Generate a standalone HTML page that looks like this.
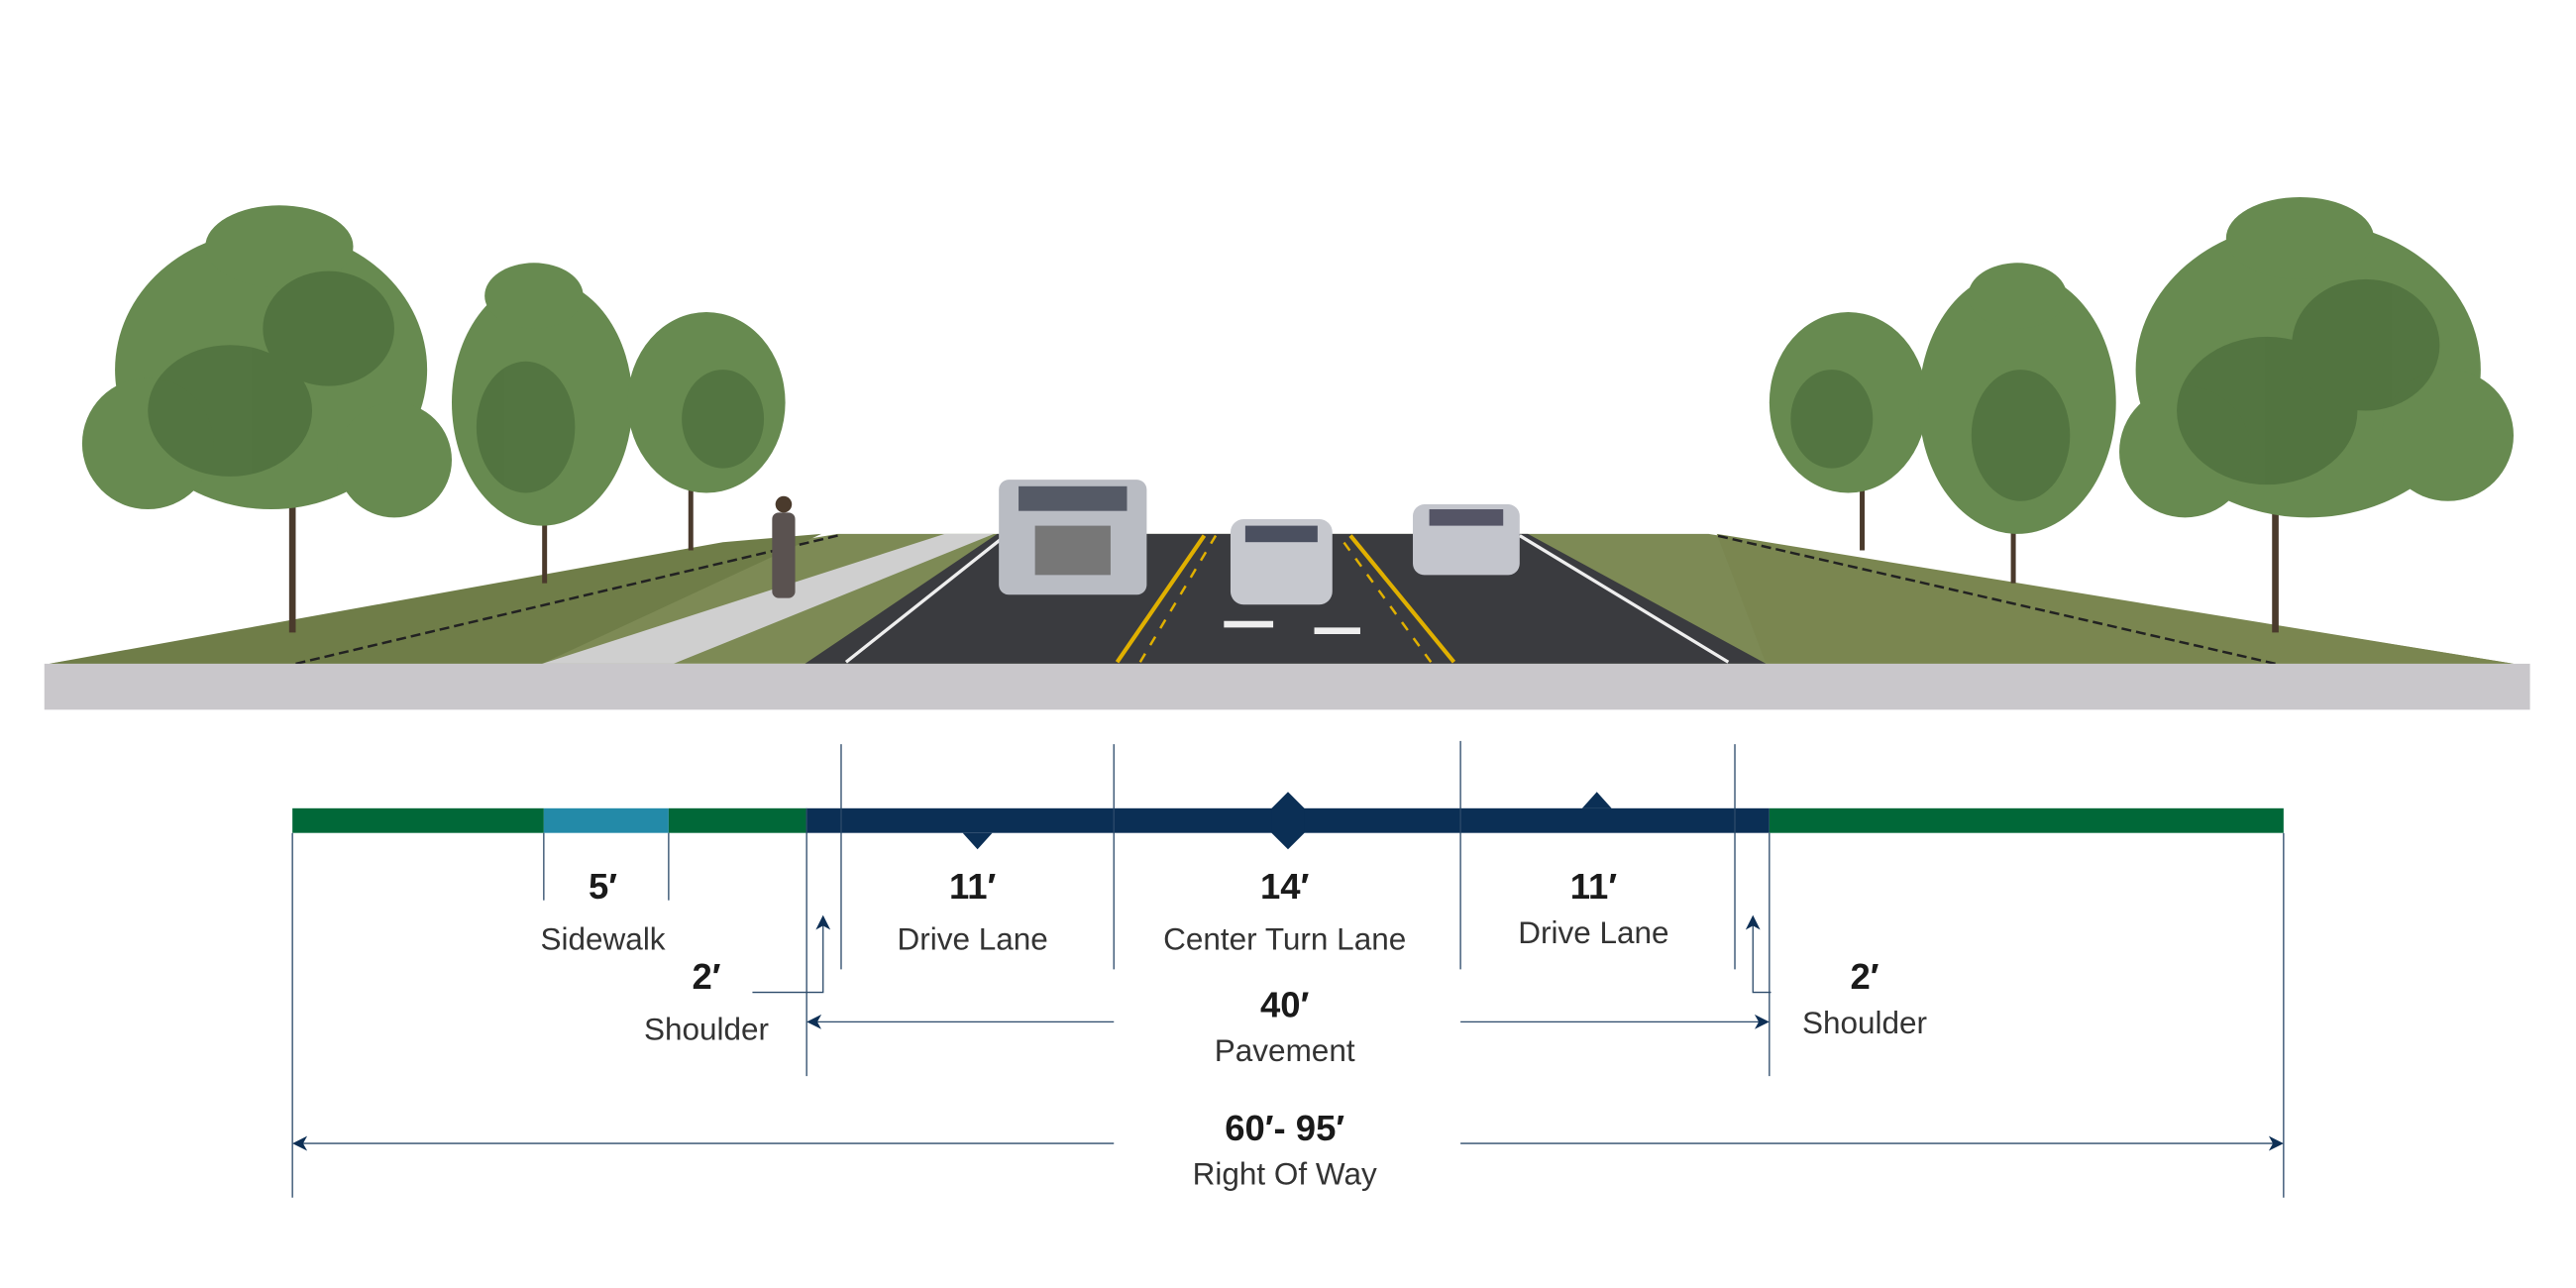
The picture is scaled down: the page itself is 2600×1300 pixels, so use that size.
<!DOCTYPE html>
<html><head><meta charset="utf-8"><style>
html,body{margin:0;padding:0;background:#fff;}
svg{display:block;}
text{font-family:"Liberation Sans",sans-serif;fill:#1a1a1a;text-anchor:middle;}
.b{font-weight:bold;font-size:22px;}
.l{font-size:19px;fill:#333;}
</style></head><body>
<svg width="2600" height="1300" viewBox="0 0 1568 784" preserveAspectRatio="none" xmlns="http://www.w3.org/2000/svg">
<defs>
<marker id="a" markerWidth="9" markerHeight="9" refX="8" refY="4.5" orient="auto" markerUnits="userSpaceOnUse"><path d="M0,0 L9,4.5 L0,9 L2.5,4.5 Z" fill="#0d2f55"/></marker>
</defs>
<!-- ground -->
<polygon points="30,404 510,325 1040,325 1530,404" fill="#7d8a55"/>
<polygon points="30,404 440,330 500,325 330,404" fill="#6f7d48"/>
<polygon points="1075,404 1045,325 1530,404" fill="#7a8650"/>
<line x1="180" y1="404" x2="510" y2="326" stroke="#222" stroke-width="1.5" stroke-dasharray="6,3"/>
<line x1="1385" y1="404" x2="1045" y2="326" stroke="#222" stroke-width="1.5" stroke-dasharray="6,3"/>
<polygon points="330,404 410,404 605,325 575,325" fill="#cfcfcf"/>
<polygon points="490,404 1075,404 930,325 607,325" fill="#3a3b3f"/>
<line x1="515" y1="403" x2="612" y2="326" stroke="#eee" stroke-width="2"/>
<line x1="1052" y1="403" x2="925" y2="326" stroke="#eee" stroke-width="2"/>
<line x1="680" y1="403" x2="733" y2="326" stroke="#e0b000" stroke-width="2.5"/>
<line x1="694" y1="403" x2="740" y2="326" stroke="#e0b000" stroke-width="1.5" stroke-dasharray="6,6"/>
<line x1="885" y1="403" x2="822" y2="326" stroke="#e0b000" stroke-width="2.5"/>
<line x1="871" y1="403" x2="815" y2="326" stroke="#e0b000" stroke-width="1.5" stroke-dasharray="6,6"/>
<path d="M745,380 L775,380 M800,384 L828,384" stroke="#eee" stroke-width="4"/>
<rect x="27" y="404" width="1513" height="28" fill="#c9c7cb"/>
<!-- trees -->
<g fill="#4a3a2c">
<rect x="176" y="290" width="4" height="95"/>
<rect x="330" y="250" width="3" height="105"/>
<rect x="419" y="240" width="3" height="95"/>
<rect x="1132" y="250" width="3" height="85"/>
<rect x="1224" y="250" width="3" height="105"/>
<rect x="1383" y="280" width="4" height="105"/>
</g>
<g fill="#678a50">
<ellipse cx="165" cy="225" rx="95" ry="85"/><ellipse cx="90" cy="270" rx="40" ry="40"/><ellipse cx="240" cy="280" rx="35" ry="35"/><ellipse cx="170" cy="150" rx="45" ry="25"/>
<ellipse cx="330" cy="245" rx="55" ry="75"/><ellipse cx="325" cy="180" rx="30" ry="20"/>
<ellipse cx="430" cy="245" rx="48" ry="55"/>
<ellipse cx="1125" cy="245" rx="48" ry="55"/>
<ellipse cx="1228" cy="245" rx="60" ry="80"/><ellipse cx="1228" cy="180" rx="30" ry="20"/>
<ellipse cx="1405" cy="225" rx="105" ry="90"/><ellipse cx="1330" cy="275" rx="40" ry="40"/><ellipse cx="1490" cy="265" rx="40" ry="40"/><ellipse cx="1400" cy="145" rx="45" ry="25"/>
</g>
<g fill="#3f5f32" opacity="0.5">
<ellipse cx="140" cy="250" rx="50" ry="40"/><ellipse cx="200" cy="200" rx="40" ry="35"/>
<ellipse cx="320" cy="260" rx="30" ry="40"/><ellipse cx="440" cy="255" rx="25" ry="30"/>
<ellipse cx="1115" cy="255" rx="25" ry="30"/><ellipse cx="1230" cy="265" rx="30" ry="40"/>
<ellipse cx="1380" cy="250" rx="55" ry="45"/><ellipse cx="1440" cy="210" rx="45" ry="40"/>
</g>
<!-- person -->
<rect x="470" y="312" width="14" height="52" rx="4" fill="#5a5250"/>
<circle cx="477" cy="307" r="5" fill="#4a3a2c"/>
<!-- cars -->
<rect x="608" y="292" width="90" height="70" rx="6" fill="#b9bcc3"/>
<rect x="620" y="296" width="66" height="15" fill="#555a66"/>
<rect x="630" y="320" width="46" height="30" fill="#777"/>
<rect x="749" y="316" width="62" height="52" rx="8" fill="#c6c8ce"/>
<rect x="758" y="320" width="44" height="10" fill="#4b5060"/>
<rect x="860" y="307" width="65" height="43" rx="7" fill="#c3c5cc"/>
<rect x="870" y="310" width="45" height="10" fill="#556"/>
<!-- dimension bar -->
<rect x="178" y="492" width="153" height="15" fill="#006838"/>
<rect x="331" y="492" width="76" height="15" fill="#238aa8"/>
<rect x="407" y="492" width="84" height="15" fill="#006838"/>
<rect x="491" y="492" width="586" height="15" fill="#0b2f55"/>
<rect x="1077" y="492" width="313" height="15" fill="#006838"/>
<polygon points="586,507 604,507 595,517" fill="#0b2f55"/>
<polygon points="784,482 794,492 794,507 784,517 774,507 774,492" fill="#0b2f55"/>
<polygon points="963,492 981,492 972,482" fill="#0b2f55"/>
<g stroke="#2c4a6a" stroke-width="0.8" fill="none">
<line x1="512" y1="453" x2="512" y2="590"/>
<line x1="678" y1="453" x2="678" y2="590"/>
<line x1="889" y1="451" x2="889" y2="590"/>
<line x1="1056" y1="453" x2="1056" y2="590"/>
<line x1="491" y1="492" x2="491" y2="655"/>
<line x1="1077" y1="507" x2="1077" y2="655"/>
<line x1="178" y1="507" x2="178" y2="729"/>
<line x1="1390" y1="507" x2="1390" y2="729"/>
<line x1="331" y1="507" x2="331" y2="548"/>
<line x1="407" y1="507" x2="407" y2="548"/>
<polyline points="458,604 501,604 501,558" marker-end="url(#a)"/>
<polyline points="1078,604 1067,604 1067,558" marker-end="url(#a)"/>
<line x1="678" y1="622" x2="492" y2="622" marker-end="url(#a)"/>
<line x1="889" y1="622" x2="1076" y2="622" marker-end="url(#a)"/>
<line x1="678" y1="696" x2="179" y2="696" marker-end="url(#a)"/>
<line x1="889" y1="696" x2="1389" y2="696" marker-end="url(#a)"/>
</g>
<text class="b" x="367" y="547">5′</text><text class="l" x="367" y="578">Sidewalk</text>
<text class="b" x="592" y="547">11′</text><text class="l" x="592" y="578">Drive Lane</text>
<text class="b" x="782" y="547">14′</text><text class="l" x="782" y="578">Center Turn Lane</text>
<text class="b" x="970" y="547">11′</text><text class="l" x="970" y="574">Drive Lane</text>
<text class="b" x="430" y="602">2′</text><text class="l" x="430" y="633">Shoulder</text>
<text class="b" x="1135" y="602">2′</text><text class="l" x="1135" y="629">Shoulder</text>
<text class="b" x="782" y="619">40′</text><text class="l" x="782" y="646">Pavement</text>
<text class="b" x="782" y="694">60′- 95′</text><text class="l" x="782" y="721">Right Of Way</text>
</svg>
</body></html>
